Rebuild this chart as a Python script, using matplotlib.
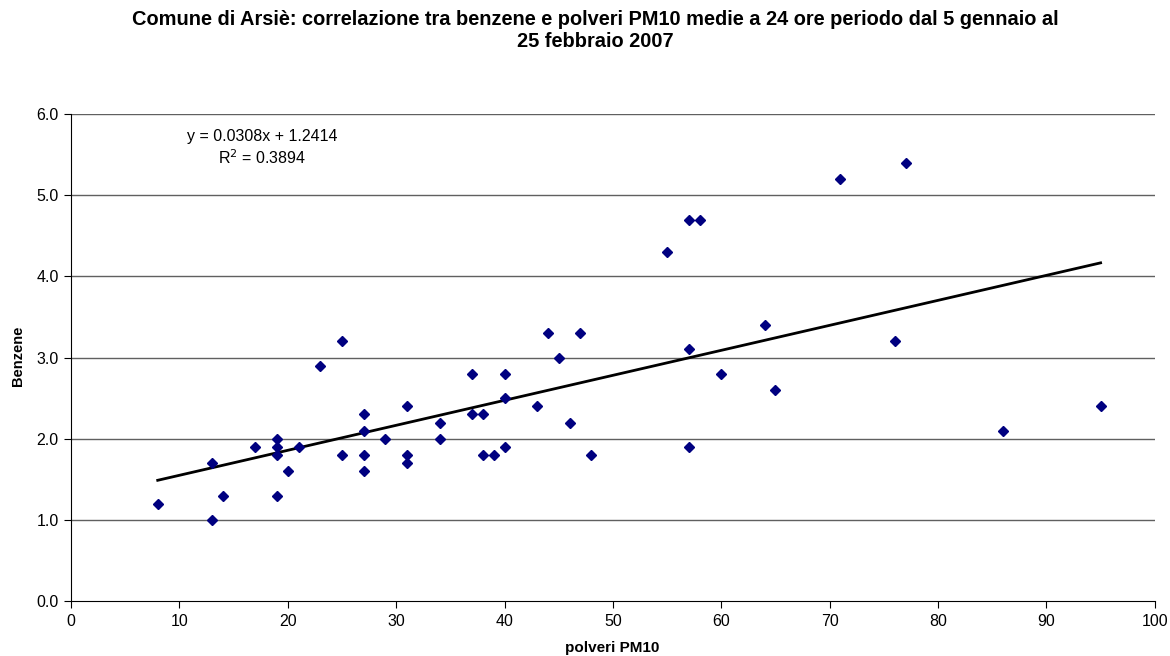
import numpy as np
import matplotlib
matplotlib.use("Agg")
import matplotlib.pyplot as plt

plt.rcParams['font.family'] = ['Liberation Sans', 'DejaVu Sans']

# PM10 (x) vs benzene (y), 24h averages
pm10 = [8, 13, 13, 14, 17, 19, 19, 19, 19, 20, 21, 23, 25, 25, 27, 27, 27, 27,
        29, 31, 31, 31, 34, 34, 37, 37, 38, 38, 39, 40, 40, 40, 43, 44, 45, 46,
        47, 48, 55, 57, 58, 57, 57, 60, 64, 65, 71, 76, 77, 86, 95]
benzene = [1.2, 1.7, 1.0, 1.3, 1.9, 2.0, 1.9, 1.8, 1.3, 1.6, 1.9, 2.9, 3.2, 1.8,
           2.3, 2.1, 1.8, 1.6, 2.0, 2.4, 1.8, 1.7, 2.2, 2.0, 2.8, 2.3, 2.3, 1.8,
           1.8, 2.8, 2.5, 1.9, 2.4, 3.3, 3.0, 2.2, 3.3, 1.8, 4.3, 4.7, 4.7, 3.1,
           1.9, 2.8, 3.4, 2.6, 5.2, 3.2, 5.4, 2.1, 2.4]
slope, intercept = 0.0308, 1.2414
eq_text = "y = 0.0308x + 1.2414\nR$^2$ = 0.3894"

fig = plt.figure(figsize=(11.7, 6.56), dpi=100)
ax = fig.add_axes([0.0607, 0.0838, 0.9263, 0.7422])

for yv in np.arange(1, 7):
    ax.axhline(yv, color="#606060", lw=1, zorder=1)

ax.plot(pm10, benzene, linestyle="none", marker="D", markersize=5,
        color="#000080", zorder=3)

xs = np.array([min(pm10), max(pm10)])
ax.plot(xs, slope * xs + intercept, color="black", lw=2, zorder=2)

ax.text(17.6, 5.58, eq_text, ha="center", va="center", fontsize=11.5,
        linespacing=1.25)

ax.set_xlim(0, 100)
ax.set_ylim(0, 6)
ax.set_xticks(range(0, 101, 10))
ax.set_yticks(np.arange(0, 6.1, 1))
ax.set_yticklabels([f"{v:.1f}" for v in np.arange(0, 6.1, 1)])
ax.tick_params(labelsize=11.5, direction="out", length=5, color="black", pad=4)
ax.spines["top"].set_visible(False)
ax.spines["right"].set_visible(False)
ax.spines["left"].set_color("black")
ax.spines["bottom"].set_color("black")

ax.set_xlabel("polveri PM10", fontsize=11, fontweight="bold", va="center")
ax.set_ylabel("Benzene", fontsize=10.5, fontweight="bold", va="center")
ax.xaxis.set_label_coords(0.499, -0.0965)
ax.yaxis.set_label_coords(-0.049, 0.503)

fig.text(0.5085, 0.9535, "Comune di Arsiè: correlazione tra benzene e polveri PM10 medie a 24 ore periodo dal 5 gennaio al\n25 febbraio 2007",
         ha="center", va="center", fontsize=14.4, fontweight="bold", linespacing=1.15)

fig.savefig("out.png", dpi=100)
